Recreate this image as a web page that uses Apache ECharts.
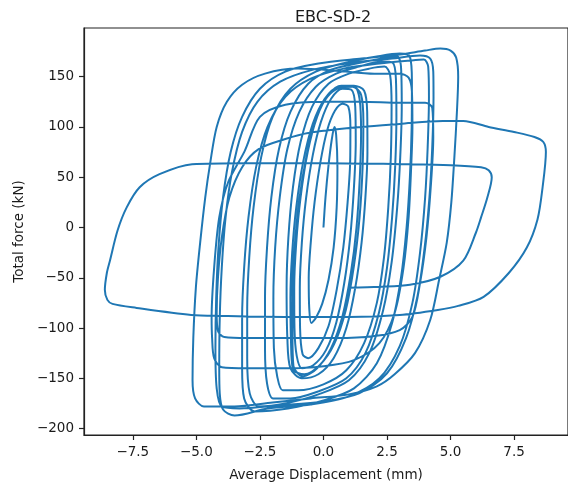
<!DOCTYPE html>
<html>
<head>
<meta charset="utf-8">
<script src="https://cdn.jsdelivr.net/npm/echarts@6/dist/echarts.min.js"></script>
<style>
html,body{margin:0;padding:0;background:#fff;}
#chart{width:568px;height:488px;}
</style>
</head>
<body>
<div id="chart"></div>
<script>
// Tick labels
var xTicks = [-7.5, -5, -2.5, 0, 2.5, 5, 7.5];
var yTicks = [-200, -150, -100, -50, 0, 50, 100, 150];

// Displacement (mm), force (kN) pairs, in test order
var startLoop = [
  [0,0],[0.08,30],[0.2,62],[0.33,88],[0.43,100],[0.5,92],[0.55,60],[0.52,20],[0.4,-20],[0.2,-52],[-0.05,-76],[-0.3,-90],[-0.48,-95]
];
var innerLoops = [
  [-0.56,-80],[-0.58,-50],[-0.5,-15],[-0.35,25],[-0.12,65],[0.15,97],[0.45,116],[0.75,123],[0.98,120],[1.06,100],[1.05,65],[0.95,25],[0.78,-20],[0.52,-62],[0.2,-98],[-0.2,-120],[-0.6,-130],[-0.82,-126],
  [-0.92,-100],[-0.93,-60],[-0.85,-15],[-0.68,30],[-0.42,72],[-0.1,105],[0.3,128],[0.75,138],[1.1,137],[1.25,120],[1.27,85],[1.2,40],[1.05,-10],[0.82,-55],[0.5,-95],[0.1,-122],[-0.4,-137],[-0.85,-140],[-1.05,-128],
  [-1.14,-100],[-1.15,-60],[-1.07,-15],[-0.9,30],[-0.62,75],[-0.25,110],[0.2,132],[0.7,141],[1.2,141],[1.42,128],[1.48,95],[1.43,50],[1.3,0],[1.08,-45],[0.75,-88],[0.3,-120],[-0.25,-140],[-0.8,-148],[-1.18,-138],
  [-1.22,-105],[-1.22,-62],[-1.13,-18],[-0.95,28],[-0.66,72],[-0.3,108],[0.15,130],[0.65,139],[1.15,140],[1.48,132],[1.57,105],[1.54,60],[1.42,10],[1.2,-38],[0.88,-82],[0.42,-116],[-0.15,-137],[-0.75,-146],[-1.2,-141],
  [-1.28,-110],[-1.3,-70],[-1.23,-25],[-1.07,20],[-0.8,65],[-0.42,103],[0.05,128],[0.6,140],[1.2,141],[1.6,136],[1.72,115],[1.73,75],[1.65,30],[1.5,-15],[1.25,-60],[0.9,-100],[0.4,-130],[-0.2,-146],[-0.85,-150],[-1.3,-140]
];
var mediumLoops = [
  [-1.42,-110],[-1.45,-60],[-1.38,-10],[-1.2,40],[-0.9,85],[-0.45,120],[0.2,143],[1.0,153],[1.8,158],[2.4,160],[2.62,152],[2.68,120],[2.65,70],[2.55,20],[2.38,-30],[2.1,-75],[1.6,-115],[0.9,-142],[0,-156],[-1.0,-162],[-1.6,-162],[-1.82,-148],
  [-1.95,-120],[-1.97,-70],[-1.9,-20],[-1.72,30],[-1.42,78],[-0.95,115],[-0.3,140],[0.5,153],[1.4,160],[2.3,165],[2.72,164],[2.85,148],[2.87,110],[2.82,60],[2.7,10],[2.5,-40],[2.18,-85],[1.65,-125],[0.9,-150],[-0.2,-163],[-1.3,-170],[-1.98,-170],[-2.22,-155],
  [-2.3,-120],[-2.3,-70],[-2.22,-20],[-2.05,30],[-1.75,78],[-1.3,115],[-0.6,143],[0.3,157],[1.3,163],[2.3,168],[2.9,170],[3.05,160],[3.08,120],[3.02,70],[2.9,20],[2.68,-35],[2.35,-82],[1.8,-125],[1.0,-152],[-0.2,-166],[-1.5,-175],[-2.55,-178],[-2.9,-165],
  [-3.0,-130],[-3.0,-80],[-2.92,-30],[-2.75,20],[-2.45,70],[-2.0,110],[-1.3,138],[-0.3,155],[0.9,164],[2.1,170],[3.0,173],[3.4,170],[3.48,145],[3.47,100],[3.4,50],[3.27,0],[3.05,-50],[2.7,-95],[2.1,-135],[1.2,-160],[0,-172],[-1.4,-180],[-2.7,-183],[-3.12,-170]
];
var outerLoops = [
  [-3.2,-140],[-3.2,-90],[-3.12,-40],[-2.95,10],[-2.65,60],[-2.2,100],[-1.5,130],[-0.5,148],[0.8,158],[2.2,163],[3.4,166],[3.95,167],[4.12,160],[4.15,130],[4.1,80],[4.0,30],[3.8,-25],[3.5,-75],[3.0,-118],[2.2,-150],[1.0,-168],[-0.5,-176],[-2.2,-180],[-3.5,-187],[-3.95,-181],[-4.08,-165],
  [-4.1,-140],[-4.08,-90],[-4.0,-40],[-3.85,10],[-3.6,55],[-3.2,95],[-2.6,125],[-1.7,145],[-0.4,157],[1.2,164],[2.7,168],[3.8,171],[4.2,168],[4.32,155],[4.33,130],[4.28,80],[4.17,30],[3.98,-20],[3.7,-68],[3.25,-110],[2.5,-145],[1.4,-165],[0,-173],[-1.8,-177],[-3.3,-180],[-4.0,-178],[-4.2,-160],
  [-4.25,-120],[-4.22,-70],[-4.13,-20],[-3.95,30],[-3.65,75],[-3.2,110],[-2.5,138],[-1.5,155],[-0.2,163],[1.5,168],[3.0,172],[4.0,176],[4.6,178],[5.0,176],[5.22,169],[5.3,150],[5.25,115],[5.15,70],[5.03,25],[4.85,-15],[4.55,-52],[4.2,-92],[3.6,-125],[2.8,-146],[2.1,-158],[1.0,-166],[-0.5,-170],[-2.0,-174],[-3.5,-178],[-4.7,-178],[-5.05,-170],[-5.15,-152]
];
var degradedLoops = [
  [-5.12,-110],[-5.02,-60],[-4.85,-15],[-4.65,30],[-4.45,65],[-4.2,100],[-3.8,125],[-3.2,142],[-2.3,153],[-1.0,158],[0.5,156],[2.0,153],[3.0,153],[3.35,149],[3.48,135],[3.5,100],[3.45,60],[3.35,10],[3.15,-40],[2.8,-85],[2.2,-115],[1.2,-132],[0,-138],[-1.5,-140],[-3.0,-140],[-4.0,-139],[-4.3,-130],[-4.38,-110],
  [-4.4,-90],[-4.3,-40],[-4.1,10],[-3.75,45],[-3.1,76],[-2.5,110],[-1.5,122],[0,125],[1.5,125],[3.0,124],[4.0,124],[4.28,119],[4.32,90],[4.22,40],[4.05,-10],[3.8,-55],[3.5,-89],[3.0,-102],[2,-108],[0.5,-110],[-1.5,-110],[-3.0,-110],[-3.9,-109],[-4.15,-103],[-4.2,-85]
];
var largeLoops = [
  [-4.15,-50],[-4.0,-10],[-3.7,30],[-3.2,60],[-2.55,78],[-1.5,88],[-0.6,94],[1.5,100],[3,103],[4.7,106],[5.5,106],[6.5,100],[7.5,95],[8.3,90],[8.65,85],[8.75,75],[8.62,40],[8.42,8],[8.0,-20],[7.3,-45],[6.3,-69],[5.3,-78],[4.5,-82],[3,-87],[1,-89],[-1.5,-89],[-4,-88],[-5.2,-87],[-7.35,-80],[-8.3,-76],[-8.5,-72],[-8.6,-62],
  [-8.52,-45],[-8.4,-33],[-8.1,-3],[-7.74,20],[-7.23,40],[-6.45,53],[-5.17,63],[-3,64],[0,64],[3,63],[5,62],[6.2,60],[6.5,57],[6.62,50],[6.45,30],[6.2,10],[6.0,-5],[5.5,-33],[4.6,-49],[3.4,-57],[2.2,-59],[1.0,-60]
];

var path = [].concat(startLoop, innerLoops, mediumLoops, outerLoops, degradedLoops, largeLoops);

function fmt(v, d) {
  var s = d ? v.toFixed(d) : String(Math.round(v));
  return s.replace('-', '\u2212');
}

var chart = echarts.init(document.getElementById('chart'), null, {renderer: 'canvas'});
var txt = '#1a1a1a';
var font = 'DejaVu Sans';
chart.setOption({
  animation: false,
  backgroundColor: '#fff',
  title: {
    text: 'EBC-SD-2',
    left: 290, top: 5,
    textStyle: {fontFamily: font, fontSize: 16, fontWeight: 'normal', color: txt}
  },
  grid: {left: 84, top: 28, width: 488, height: 407, show: true, borderColor: '#222', borderWidth: 1.2, containLabel: false},
  xAxis: {
    type: 'value', min: -9.42, max: 9.62,
    name: 'Average Displacement (mm)', nameLocation: 'middle', nameGap: 33,
    nameTextStyle: {fontFamily: font, fontSize: 13.5, color: txt},
    axisLine: {show: true, onZero: false, lineStyle: {color: '#222', width: 1.2}},
    axisTick: {show: true, inside: false, length: 5, customValues: xTicks, lineStyle: {color: '#222', width: 1.2}},
    axisLabel: {customValues: xTicks, margin: 10, fontFamily: font, fontSize: 13.5, color: txt, formatter: function (v) { return fmt(v, 1); }},
    splitLine: {show: false}
  },
  yAxis: {
    type: 'value', min: -206.4, max: 198.4,
    name: 'Total force (kN)', nameLocation: 'middle', nameGap: 55, nameRotate: 90,
    nameTextStyle: {fontFamily: font, fontSize: 13.5, color: txt},
    axisLine: {show: true, onZero: false, lineStyle: {color: '#222', width: 1.2}},
    axisTick: {show: true, inside: false, length: 5, customValues: yTicks, lineStyle: {color: '#222', width: 1.2}},
    axisLabel: {customValues: yTicks, margin: 10, fontFamily: font, fontSize: 13.5, color: txt, formatter: function (v) { return fmt(v, 0); }},
    splitLine: {show: false}
  },
  series: [{
    type: 'line',
    data: path,
    showSymbol: false,
    smooth: 0.3,
    clip: true,
    lineStyle: {color: '#1f77b4', width: 2},
    emphasis: {disabled: true}
  }]
});
</script>
</body>
</html>
